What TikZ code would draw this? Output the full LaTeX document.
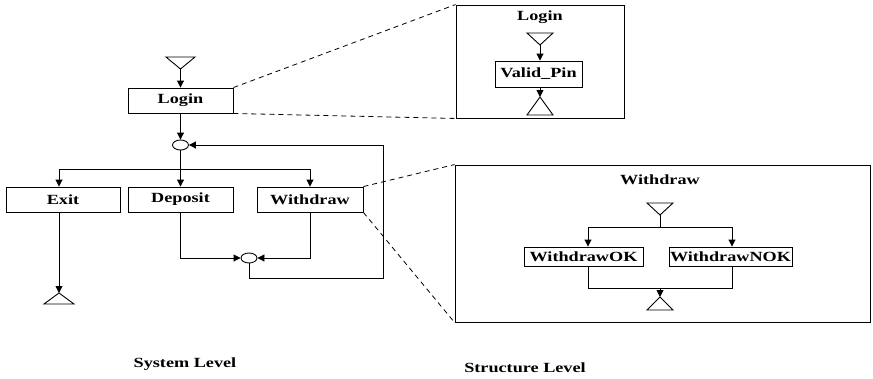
\documentclass[tikz,border=0pt]{standalone}
\usepackage{fontspec}
\newfontfamily\lblfont{Liberation Serif}[FakeStretch=1.3]
\usetikzlibrary{arrows.meta,shapes.geometric}
\begin{document}
\begin{tikzpicture}[x=1pt,y=-1pt, line width=0.9pt,
  font=\lblfont\bfseries\fontsize{14}{16}\selectfont,
  box/.style={draw, rectangle, inner sep=0pt, minimum height=25pt},
  junc/.style={draw, ellipse, inner sep=0pt, minimum width=16pt, minimum height=10pt},
  arr/.style={-{Triangle[length=7pt,width=7pt]}},
  zoomline/.style={dash pattern=on 5pt off 4pt, line width=0.8pt},
  frame/.style={draw, rectangle, inner sep=0pt},
  lbl/.style={inner sep=0pt}]
\useasboundingbox (0,0) rectangle (873,378);

% ---------------- System level ----------------
\draw (166,57) -- (195,57) -- (180.5,69) coordinate (s0) -- cycle;
\node[box, minimum width=105pt] (login) at (180.5,100.5) {Login};
\node[junc] (j1) at (180.5,145) {};
\coordinate (bar) at (180.5,169);
\node[box, minimum width=114pt] (exit) at (63,199.5) {Exit};
\node[box, minimum width=105pt] (dep) at (180.5,199.5) {Deposit};
\node[box, minimum width=106pt] (wd) at (310,199.5) {Withdraw};
\node[junc] (j2) at (249,258) {};
\draw (44,304) -- (74,304) -- (59,293) coordinate (e0) -- cycle;
\coordinate (loopc) at (383,278);

\draw[arr] (s0) -- (login.north);
\draw[arr] (login.south) -- (j1.north);
\draw (j1.south) -- (bar);
\draw[arr] (bar) -| ([xshift=-4pt]exit.north);
\draw[arr] (bar) -- (dep.north);
\draw[arr] (bar) -| (wd.north);
\draw[arr] ([xshift=-4pt]exit.south) -- (e0);
\draw[arr] (dep.south) |- (j2.west);
\draw[arr] (wd.south) |- (j2.east);
\draw[arr] (j2.south) |- (loopc) |- (j1.east);

% ---------------- Login zoom ----------------
\node[frame, minimum width=168pt, minimum height=113pt] (lz) at (540,61.5) {};
\node[lbl] (lzt) at (540,17) {Login};
\draw (527,33) -- (553,33) -- (540,45) coordinate (ls) -- cycle;
\node[box, minimum width=87pt, minimum height=26pt] (vp) at (538.5,74) {Valid\_Pin};
\draw (527,115) -- (553,115) -- (540,97) coordinate (le) -- cycle;
\draw[arr] (ls) -- (ls |- vp.north);
\draw[arr] (le |- vp.south) -- (le);

% ---------------- Withdraw zoom ----------------
\node[frame, minimum width=415pt, minimum height=157pt] (wz) at (662.5,243.5) {};
\node[lbl] (wzt) at (660,180) {Withdraw};
\draw (647,203) -- (673,203) -- (660,215) coordinate (ws) -- cycle;
\coordinate (wbar) at (660,227);
\node[box, minimum width=119pt, minimum height=19pt] (wok) at (583.5,256.5) {WithdrawOK};
\node[box, minimum width=123pt, minimum height=19pt] (wnok) at (730.5,256.5) {WithdrawNOK};
\coordinate (wjoin) at (660,288);
\draw (647,310) -- (673,310) -- (660,297) coordinate (we) -- cycle;
\draw (ws) -- (wbar);
\draw[arr] (wbar) -| ([xshift=4.5pt]wok.north);
\draw[arr] (wbar) -| ([xshift=1.5pt]wnok.north);
\draw ([xshift=4.5pt]wok.south) |- (wjoin);
\draw ([xshift=1.5pt]wnok.south) |- (wjoin);
\draw[arr] (wjoin) -- (we);

% ---------------- zoom lines ----------------
\draw[zoomline] (login.north east) -- (lz.north west);
\draw[zoomline] (login.south east) -- (lz.south west);
\draw[zoomline] (wd.north east) -- (wz.north west);
\draw[zoomline] (wd.south east) -- (wz.south west);

% ---------------- captions ----------------
\node[lbl] (sys) at (185,364) {System Level};
\node[lbl] (strl) at (525,368) {Structure Level};
\end{tikzpicture}
\end{document}
